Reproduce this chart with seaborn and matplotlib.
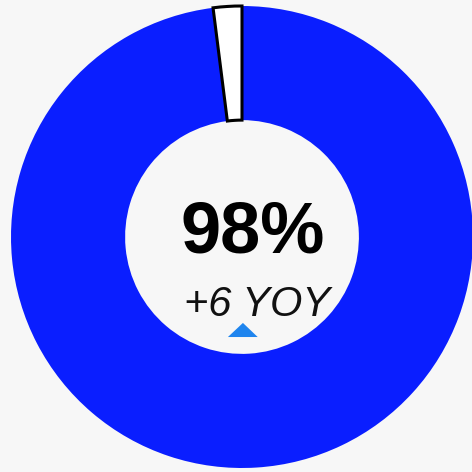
import matplotlib
matplotlib.use("Agg")
import matplotlib.pyplot as plt
import seaborn as sns

# Share data
labels = ["Other", "Share"]
values = [2, 98]
slice_colors = ["#ffffff", "#0a1eff"]
headline = "98%"
change_text = "+6 YOY"

sns.set_theme(style="white")
plt.rcParams["font.family"] = ["Liberation Sans", "DejaVu Sans"]

bg = "#f7f7f7"
fig = plt.figure(figsize=(4.72, 4.72), dpi=100, facecolor=bg)
ax = fig.add_axes([11 / 472, 4 / 472, 462 / 472, 462 / 472])
ax.set_facecolor(bg)

wedges, _ = ax.pie(
    values,
    colors=slice_colors,
    startangle=90,
    counterclock=True,
    radius=1.0,
    wedgeprops=dict(width=0.494, linewidth=0),
)
# outline the small slice
wedges[0].set_edgecolor("black")
wedges[0].set_linewidth(2.2)
wedges[0].set_zorder(3)

ax.set_xlim(-1, 1)
ax.set_ylim(-1, 1)
ax.set_aspect("equal")
ax.axis("off")

ax.text(0.048, -0.069, headline, ha="center", va="baseline",
        fontsize=52, fontweight="bold", color="black")
ax.text(0.067, -0.342, change_text, ha="center", va="baseline",
        fontsize=30, fontstyle="italic", color="#111111")

# up-arrow indicator
tri = plt.Polygon([(-0.061, -0.433), (0.068, -0.433), (0.004, -0.372)],
                  closed=True, facecolor="#1f85ee", edgecolor="none")
ax.add_patch(tri)

fig.savefig("out.png", dpi=100, facecolor=bg)
